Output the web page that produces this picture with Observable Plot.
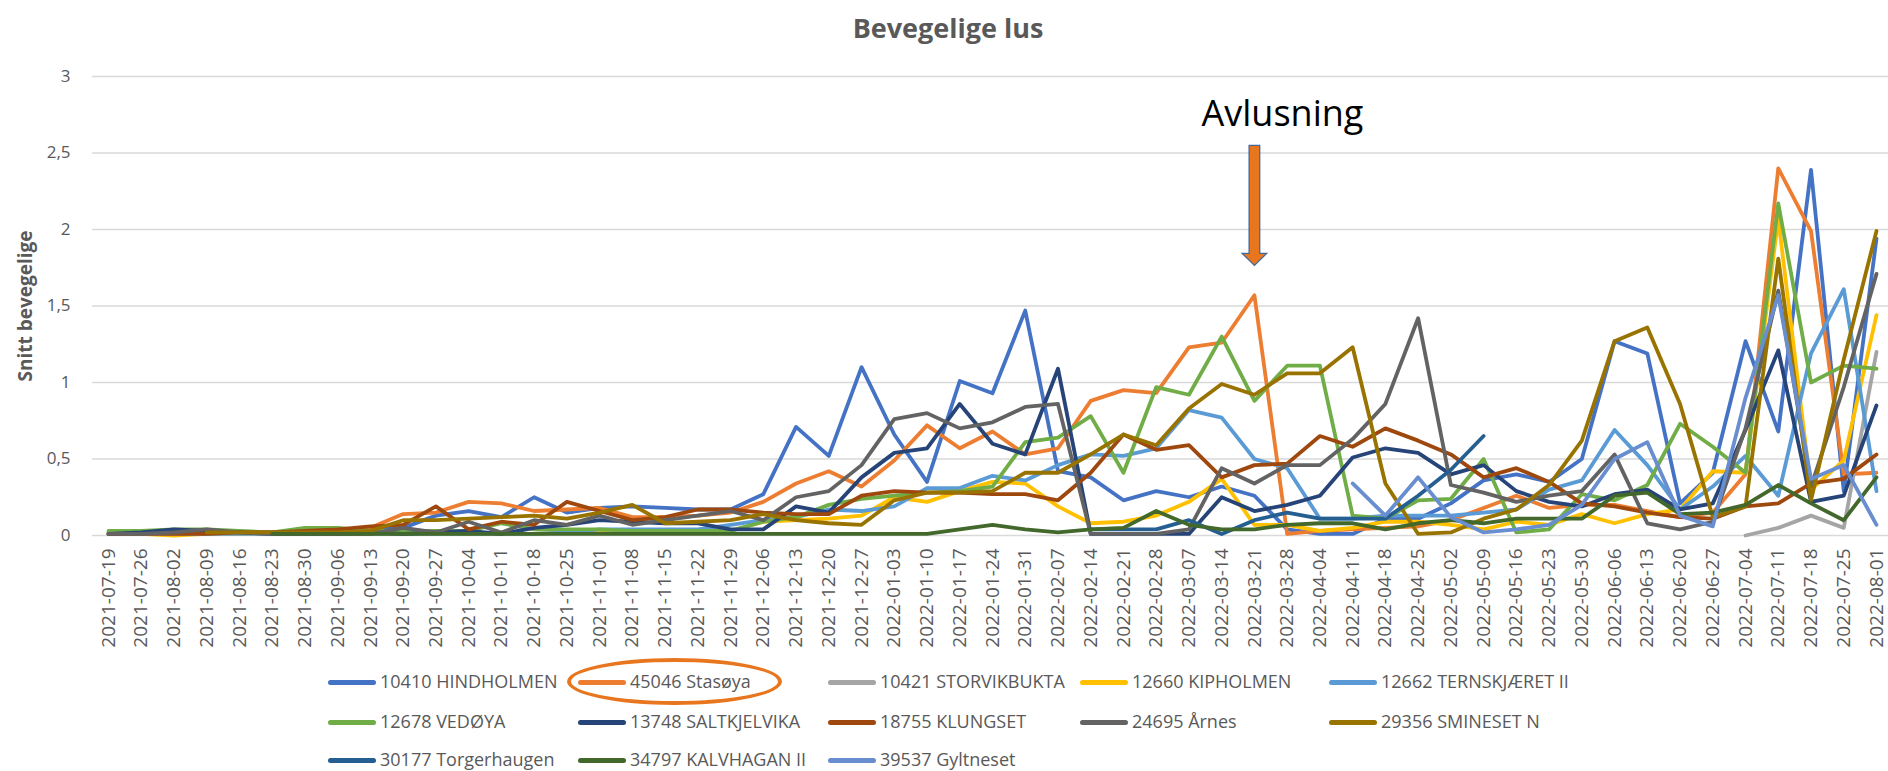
<!DOCTYPE html>
<html>
<head>
<meta charset="utf-8">
<script src="https://cdn.jsdelivr.net/npm/d3@7"></script>
<script src="https://cdn.jsdelivr.net/npm/@observablehq/plot@0.6"></script>
<style>
  html, body { margin: 0; padding: 0; background: #fff; }
  body { width: 1888px; height: 771px; overflow: hidden; font-family: "Open Sans", sans-serif; }
  #title { position: relative; width: 1888px; height: 60px; }
  #title span { position: absolute; left: 0; width: 1896px; top: 14px; text-align: center;
    font-size: 27px; line-height: 27px; font-weight: bold; color: #595959; }
  #chart { width: 1888px; height: 590px; }
  #legend { position: relative; width: 1888px; height: 121px; }
  .sw { position: absolute; width: 48px; height: 5px; border-radius: 2.5px; }
  .lt { position: absolute; font-size: 18px; line-height: 18px; color: #595959; white-space: nowrap; }
  #ring { position: absolute; left: 567px; top: 8px; width: 215px; height: 47px; box-sizing: border-box;
    border: 4px solid #E8761F; border-radius: 50%; }
</style>
</head>
<body>
<div id="title"><span>Bevegelige lus</span></div>
<div id="chart"></div>
<div id="legend"></div>
<script>
const dates = ["2021-07-19","2021-07-26","2021-08-02","2021-08-09","2021-08-16","2021-08-23","2021-08-30","2021-09-06","2021-09-13","2021-09-20","2021-09-27","2021-10-04","2021-10-11","2021-10-18","2021-10-25","2021-11-01","2021-11-08","2021-11-15","2021-11-22","2021-11-29","2021-12-06","2021-12-13","2021-12-20","2021-12-27","2022-01-03","2022-01-10","2022-01-17","2022-01-24","2022-01-31","2022-02-07","2022-02-14","2022-02-21","2022-02-28","2022-03-07","2022-03-14","2022-03-21","2022-03-28","2022-04-04","2022-04-11","2022-04-18","2022-04-25","2022-05-02","2022-05-09","2022-05-16","2022-05-23","2022-05-30","2022-06-06","2022-06-13","2022-06-20","2022-06-27","2022-07-04","2022-07-11","2022-07-18","2022-07-25","2022-08-01"];

const names = ["10410 HINDHOLMEN","45046 Stasøya","10421 STORVIKBUKTA","12660 KIPHOLMEN","12662 TERNSKJÆRET II","12678 VEDØYA","13748 SALTKJELVIKA","18755 KLUNGSET","24695 Årnes","29356 SMINESET N","30177 Torgerhaugen","34797 KALVHAGAN II","39537 Gyltneset"];
const colors = ["#4472C4","#ED7D31","#A5A5A5","#FFC000","#5B9BD5","#70AD47","#264478","#9E480E","#636363","#997300","#255E91","#43682B","#698ED0"];

const hindholmen = [0.02,0.02,0.03,0.03,0.02,0.02,0.03,0.03,0.04,0.05, 0.13,0.16,0.12,0.25,0.15,0.18,0.19,0.18,0.17,0.17, 0.27,0.71,0.52,1.10,0.66,0.35,1.01,0.93,1.47,0.42, 0.38,0.23,0.29,0.25,0.32,0.26,0.04,0.01,0.01,0.11, 0.11,0.21,0.36,0.40,0.35,0.50,1.27,1.19,0.21,0.41, 1.27,0.68,2.39,0.29,1.94];
const stasoya = [0.01,0.01,0.01,0.01,0.02,0.02,0.02,0.03,0.05,0.14, 0.15,0.22,0.21,0.16,0.17,0.18,0.12,0.12,0.13,0.15, 0.22,0.34,0.42,0.32,0.49,0.72,0.57,0.68,0.53,0.57, 0.88,0.95,0.93,1.23,1.26,1.57,0.01,0.03,0.04,0.05, 0.06,0.10,0.18,0.26,0.18,0.20,0.20,0.16,0.12,0.15, 0.40,2.40,1.99,0.40,0.41];
const storvikbukta = [null,null,null,null,null,null,null,null,null,null, null,null,null,null,null,null,null,null,null,null, null,null,null,null,null,null,null,null,null,null, null,null,null,null,null,null,null,null,null,null, null,null,null,null,null,null,null,null,null,null, 0.00,0.05,0.13,0.05,1.20];
const kipholmen = [0.01,0.01,0.00,0.01,0.01,0.01,0.01,0.01,0.01,0.01, 0.01,0.01,0.01,0.01,0.02,0.02,0.02,0.02,0.02,0.03, 0.09,0.10,0.11,0.13,0.25,0.22,0.29,0.35,0.34,0.19, 0.08,0.09,0.13,0.22,0.37,0.07,0.07,0.03,0.05,0.09, 0.09,0.07,0.04,0.09,0.07,0.14,0.08,0.14,0.17,0.42, 0.41,2.07,0.30,0.49,1.44];
const ternskjaeret = [0.01,0.01,0.01,0.01,0.01,0.01,0.01,0.01,0.01,0.01, 0.01,0.01,0.01,0.01,0.02,0.04,0.04,0.04,0.04,0.07, 0.10,0.12,0.17,0.16,0.19,0.31,0.31,0.39,0.36,0.46, 0.53,0.52,0.57,0.82,0.77,0.50,0.44,0.11,0.11,0.13, 0.13,0.13,0.15,0.17,0.30,0.36,0.69,0.46,0.17,0.32, 0.52,0.26,1.19,1.61,0.29];
const vedoya = [0.03,0.03,0.04,0.04,0.03,0.02,0.05,0.05,0.03,0.03, 0.03,0.03,0.08,0.04,0.04,0.04,0.03,0.03,0.03,0.03, 0.09,0.12,0.20,0.24,0.26,0.28,0.29,0.32,0.61,0.64, 0.78,0.41,0.97,0.92,1.30,0.88,1.11,1.11,0.13,0.11, 0.23,0.24,0.50,0.02,0.04,0.27,0.23,0.33,0.73,0.58, 0.41,2.17,1.00,1.11,1.09];
const saltkjelvika = [0.01,0.02,0.04,0.03,0.02,0.01,0.01,0.01,0.02,0.01, 0.02,0.03,0.01,0.05,0.07,0.10,0.09,0.08,0.08,0.04, 0.04,0.19,0.15,0.38,0.54,0.57,0.86,0.60,0.53,1.09, 0.01,0.01,0.01,0.01,0.25,0.16,0.20,0.26,0.51,0.57, 0.54,0.40,0.46,0.29,0.22,0.19,0.27,0.30,0.17,0.21, 0.69,1.21,0.22,0.26,0.85];
const klungset = [0.01,0.01,0.01,0.01,0.02,0.02,0.03,0.04,0.06,0.07, 0.19,0.04,0.09,0.07,0.22,0.16,0.10,0.12,0.17,0.17, 0.15,0.14,0.14,0.26,0.29,0.28,0.28,0.27,0.27,0.23, 0.41,0.66,0.56,0.59,0.38,0.46,0.47,0.65,0.58,0.70, 0.62,0.53,0.38,0.44,0.35,0.21,0.19,0.15,0.12,0.11, 0.19,0.21,0.34,0.37,0.53];
const arnes = [0.01,0.01,0.02,0.04,0.02,0.01,0.01,0.01,0.01,0.05, 0.02,0.09,0.02,0.10,0.07,0.13,0.07,0.10,0.13,0.16, 0.10,0.25,0.29,0.46,0.76,0.80,0.70,0.74,0.84,0.86, 0.01,0.01,0.01,0.04,0.44,0.34,0.46,0.46,0.63,0.86, 1.42,0.33,0.28,0.22,0.26,0.29,0.53,0.08,0.04,0.09, 0.70,1.60,0.32,0.97,1.71];
const sminesetN = [null,null,null,0.02,0.02,0.02,0.02,0.02,0.03,0.10, 0.10,0.11,0.12,0.13,0.11,0.15,0.20,0.08,0.09,0.10, 0.14,0.10,0.08,0.07,0.23,0.28,0.28,0.29,0.41,0.41, 0.53,0.66,0.59,0.83,0.99,0.92,1.06,1.06,1.23,0.34, 0.01,0.02,0.11,0.17,0.33,0.62,1.27,1.36,0.86,0.12, 0.19,1.81,0.23,1.15,1.99];
const torgerhaugen = [null,null,null,null,null,null,null,null,null,null, null,null,null,null,null,null,null,null,null,null, null,null,null,null,null,null,null,null,null,null, 0.04,0.04,0.04,0.10,0.01,0.10,0.15,0.11,0.11,0.11, 0.26,0.43,0.65,null,null,null,null,null,null,null, null,null,null,null,null];
const kalvhagan = [null,null,null,null,null,0.01,0.01,0.01,0.01,0.01, 0.01,0.01,0.01,0.01,0.01,0.01,0.01,0.01,0.01,0.01, 0.01,0.01,0.01,0.01,0.01,0.01,0.04,0.07,0.04,0.02, 0.04,0.05,0.16,0.07,0.04,0.04,0.07,0.08,0.08,0.04, 0.08,0.10,0.08,0.11,0.11,0.11,0.26,0.28,0.14,0.15, 0.20,0.33,0.21,0.10,0.38];
const gyltneset = [null,null,null,null,null,null,null,null,null,null, null,null,null,null,null,null,null,null,null,null, null,null,null,null,null,null,null,null,null,null, null,null,null,null,null,null,null,null,0.34,0.13, 0.38,0.12,0.02,0.04,0.07,0.20,0.50,0.61,0.13,0.06, 0.90,1.57,0.37,0.46,0.07];

const yTicks = [0, 0.5, 1, 1.5, 2, 2.5, 3];
const annotation = [{date: "2022-03-21", top: 2.55, labelY: 2.755, label: "Avlusning"}];

const seriesValues = [hindholmen, stasoya, storvikbukta, kipholmen, ternskjaeret, vedoya, saltkjelvika, klungset, arnes, sminesetN, torgerhaugen, kalvhagan, gyltneset];

const rows = [];
seriesValues.forEach((vals, s) => vals.forEach((v, i) => {
  if (v != null) rows.push({date: dates[i], value: v, series: names[s]});
}));

// block arrow shape (drawn downward from its anchor)
const blockArrow = {
  draw(ctx) {
    ctx.moveTo(-5.3, 0); ctx.lineTo(5.3, 0); ctx.lineTo(5.3, 108);
    ctx.lineTo(12.3, 108); ctx.lineTo(0, 120); ctx.lineTo(-12.3, 108);
    ctx.lineTo(-5.3, 108); ctx.closePath();
  }
};

const chart = Plot.plot({
  width: 1888, height: 590,
  marginLeft: 92, marginRight: 0, marginTop: 16, marginBottom: 115,
  style: {fontFamily: "Open Sans", background: "white", overflow: "visible"},
  x: {type: "point", domain: dates, range: [108, 1876], padding: 0},
  y: {domain: [0, 3]},
  color: {domain: names, range: colors},
  marks: [
    Plot.gridY(yTicks, {stroke: "#D9D9D9", strokeOpacity: 1, strokeWidth: 1.3}),
    Plot.axisY(yTicks, {tickSize: 0, tickPadding: 22, fontSize: 17, fill: "#595959",
      tickFormat: d => String(d).replace(".", ","), label: null}),
    Plot.axisX({tickRotate: -90, tickSize: 0, tickPadding: 13, fontSize: 19, fill: "#595959", label: null}),
    Plot.text(["Snitt bevegelige"], {frameAnchor: "left", textAnchor: "middle", rotate: -90, dx: -66.5,
      fontSize: 19, fontWeight: "bold", fill: "#595959"}),
    Plot.line(rows, {x: "date", y: "value", stroke: "series", z: "series", strokeWidth: 3.8,
      strokeLinejoin: "round", strokeLinecap: "round"}),
    Plot.dot(annotation, {x: "date", y: "top", symbol: blockArrow, r: 10, fill: "#E8761F", stroke: "#41689F", strokeWidth: 1.3}),
    Plot.text(annotation, {x: "date", y: "labelY", text: "label", dx: 28, fontSize: 36, fill: "#000"})
  ]
});
document.getElementById("chart").appendChild(chart);

// legend
const legend = document.getElementById("legend");
const colX = [328, 578, 828, 1080, 1329];
const rowY = [32, 72, 110];
names.forEach((n, k) => {
  const x = colX[k % 5], y = rowY[Math.floor(k / 5)];
  const sw = document.createElement("div");
  sw.className = "sw"; sw.style.left = x + "px"; sw.style.top = (y - 2.5) + "px"; sw.style.background = colors[k];
  legend.appendChild(sw);
  const t = document.createElement("div");
  t.className = "lt"; t.style.left = (x + 52) + "px"; t.style.top = (y - 9.6) + "px"; t.textContent = n;
  legend.appendChild(t);
});
const ring = document.createElement("div");
ring.id = "ring";
legend.appendChild(ring);
</script>
</body>
</html>
